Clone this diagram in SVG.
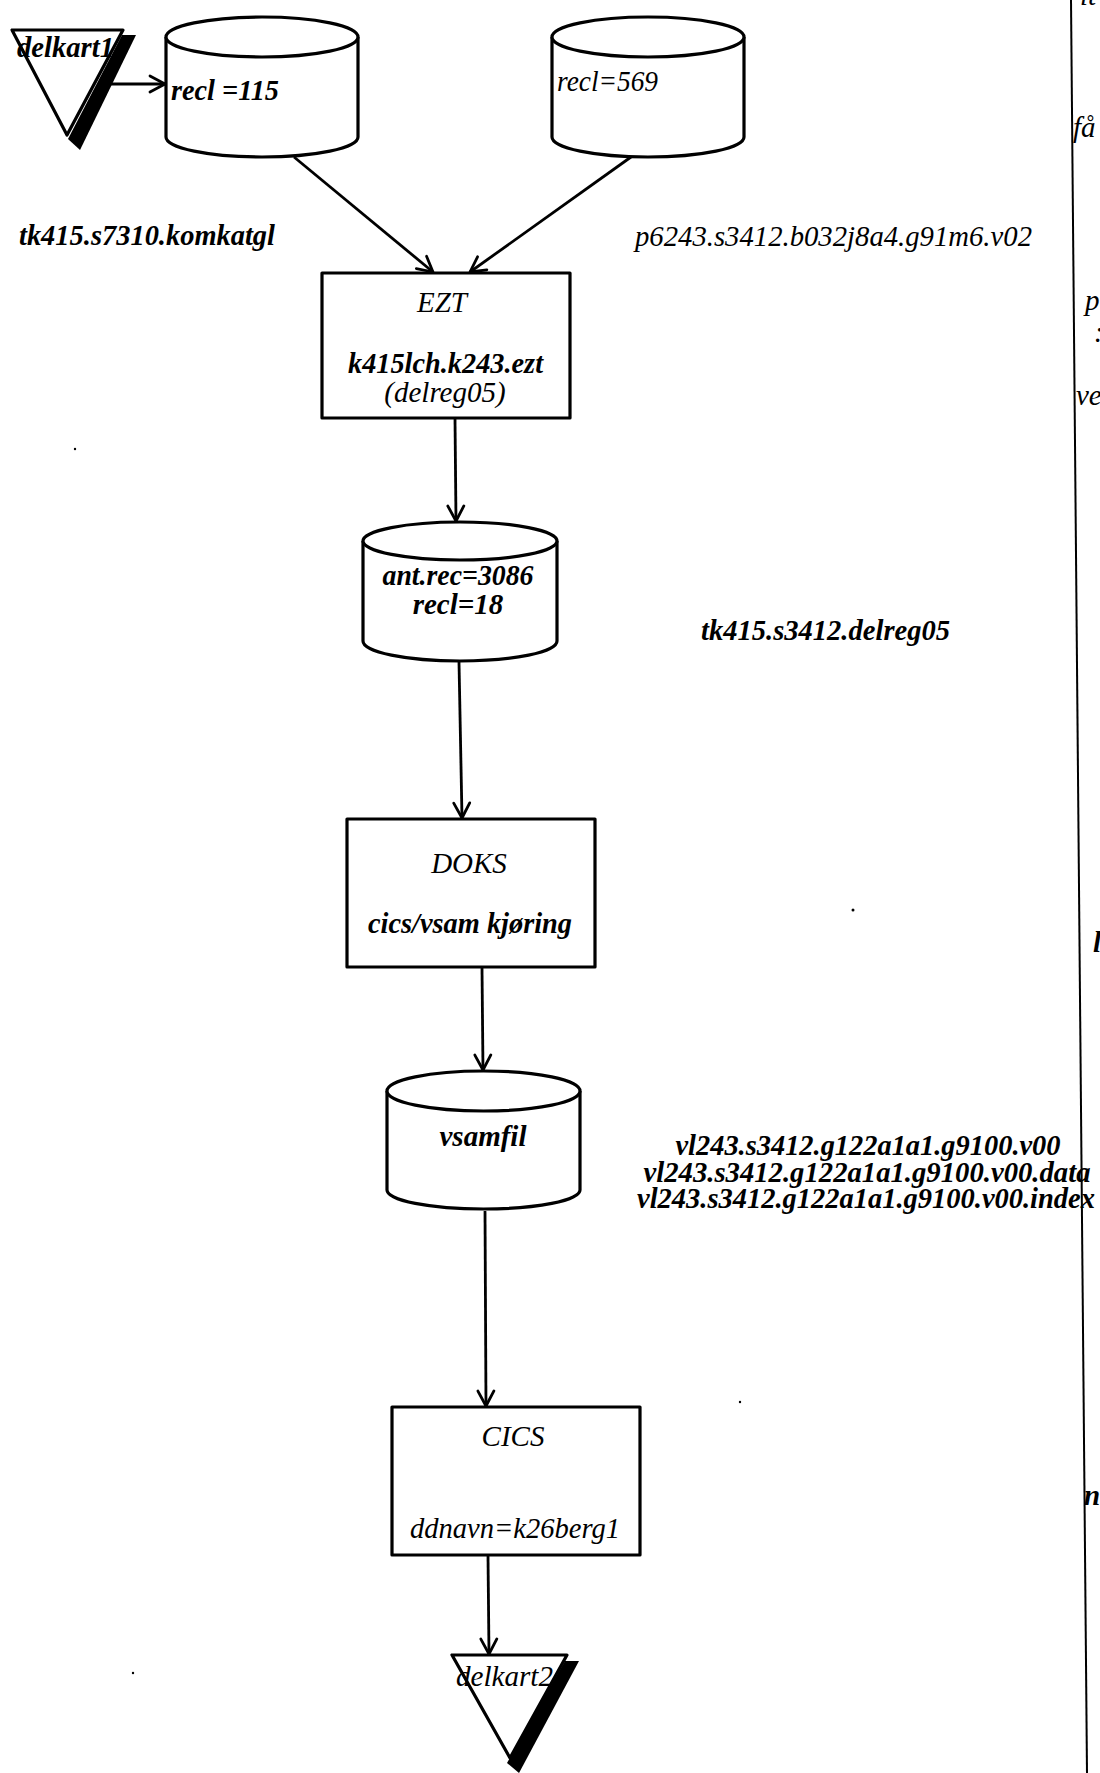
<svg xmlns="http://www.w3.org/2000/svg" width="1100" height="1773" viewBox="0 0 1100 1773">
  <style>
    .t { font-family: "Liberation Serif", "Times New Roman", serif; font-style: italic; font-size: 29px; fill: #000; }
    .b { font-weight: bold; }
    .m { text-anchor: middle; }
    .shape { fill: #fff; stroke: #000; stroke-width: 3.2; stroke-linejoin: round; }
    .shadow { fill: #000; stroke: none; }
    .conn { stroke: #000; stroke-width: 2.8; fill: none; marker-end: url(#arr); }
    .edge { stroke: #000; stroke-width: 2; fill: none; }
  </style>
  <defs>
    <marker id="arr" markerUnits="userSpaceOnUse" markerWidth="24" markerHeight="24" refX="18" refY="10" orient="auto">
      <path d="M3,2 L18,10 L3,18" fill="none" stroke="#000" stroke-width="2.8" stroke-linecap="round" stroke-linejoin="round"/>
    </marker>
  </defs>
  <rect width="1100" height="1773" fill="#fff"/>

  <!-- margin line on the right -->
  <line class="edge" x1="1071" y1="0" x2="1087" y2="1773"/>

  <!-- partially visible texts beyond the margin -->
  <g id="margin-texts">
    <text class="t" x="1080" y="5">lt</text>
    <text class="t" x="1073" y="137">få</text>
    <text class="t" x="1085" y="310">p</text>
    <text class="t" x="1094" y="342" font-size="18">:</text>
    <text class="t" x="1076" y="405">ve</text>
    <text class="t b" x="1093" y="952">l</text>
    <text class="t b" x="1084" y="1505">n</text>
  </g>

  <!-- connectors -->
  <g id="connectors">
    <line class="conn" x1="110" y1="84" x2="165" y2="84"/>
    <line class="conn" x1="294" y1="157" x2="433" y2="272"/>
    <line class="conn" x1="631" y1="157" x2="470" y2="272"/>
    <line class="conn" x1="455" y1="419" x2="456" y2="521"/>
    <line class="conn" x1="459" y1="662" x2="462" y2="818"/>
    <line class="conn" x1="482" y1="968" x2="483" y2="1070"/>
    <line class="conn" x1="485" y1="1211" x2="486" y2="1406"/>
    <line class="conn" x1="488" y1="1556" x2="489" y2="1654"/>
  </g>

  <!-- delkart1 -->
  <g id="delkart1">
    <polygon class="shadow" points="122,35 136,35 80,150 68,139"/>
    <polygon class="shape" points="12,30 123,30 67,135"/>
    <text class="t b" x="17" y="57" font-size="27" textLength="97" lengthAdjust="spacingAndGlyphs">delkart1</text>
  </g>

  <!-- cylinder recl=115 -->
  <g id="cyl1">
    <path class="shape" d="M166,37 L166,137 A96,20 0 0 0 358,137 L358,37 A96,20 0 0 0 166,37 Z"/>
    <path class="shape" fill="none" d="M166,37 A96,20 0 0 0 358,37"/>
    <text class="t b" x="171" y="100" textLength="108" lengthAdjust="spacingAndGlyphs">recl =115</text>
  </g>
  <text class="t b" x="19" y="245" textLength="256" lengthAdjust="spacingAndGlyphs">tk415.s7310.komkatgl</text>

  <!-- cylinder recl=569 -->
  <g id="cyl2">
    <path class="shape" d="M552,37 L552,137 A96,20 0 0 0 744,137 L744,37 A96,20 0 0 0 552,37 Z"/>
    <path class="shape" fill="none" d="M552,37 A96,20 0 0 0 744,37"/>
    <text class="t" x="557" y="91" textLength="101" lengthAdjust="spacingAndGlyphs">recl=569</text>
  </g>
  <text class="t" x="635" y="246" textLength="397" lengthAdjust="spacingAndGlyphs">p6243.s3412.b032j8a4.g91m6.v02</text>

  <!-- EZT -->
  <g id="ezt">
    <rect class="shape" x="322" y="273" width="248" height="145"/>
    <text class="t m" x="442" y="312">EZT</text>
    <text class="t b" x="348" y="373" textLength="195" lengthAdjust="spacingAndGlyphs">k415lch.k243.ezt</text>
    <text class="t m" x="445" y="402">(delreg05)</text>
  </g>

  <!-- cylinder ant.rec -->
  <g id="cyl3">
    <path class="shape" d="M363,541 L363,641 A97,20 0 0 0 557,641 L557,541 A97,19 0 0 0 363,541 Z"/>
    <path class="shape" fill="none" d="M363,541 A97,19 0 0 0 557,541"/>
    <text class="t b m" x="458" y="585" textLength="151" lengthAdjust="spacingAndGlyphs">ant.rec=3086</text>
    <text class="t b m" x="458" y="614">recl=18</text>
  </g>
  <text class="t b" x="701" y="640" textLength="249" lengthAdjust="spacingAndGlyphs">tk415.s3412.delreg05</text>

  <!-- DOKS -->
  <g id="doks">
    <rect class="shape" x="347" y="819" width="248" height="148"/>
    <text class="t m" x="469" y="873">DOKS</text>
    <text class="t b" x="368" y="933" textLength="204" lengthAdjust="spacingAndGlyphs">cics/vsam kjøring</text>
  </g>

  <!-- vsamfil -->
  <g id="cyl4">
    <path class="shape" d="M387,1091 L387,1190 A96.5,19 0 0 0 580,1190 L580,1091 A96.5,20 0 0 0 387,1091 Z"/>
    <path class="shape" fill="none" d="M387,1091 A96.5,20 0 0 0 580,1091"/>
    <text class="t b m" x="483" y="1146">vsamfil</text>
  </g>
  <g id="vsam-names">
    <text class="t b m" x="868" y="1155" font-size="23" textLength="385" lengthAdjust="spacingAndGlyphs">vl243.s3412.g122a1a1.g9100.v00</text>
    <text class="t b m" x="867" y="1182" font-size="23" textLength="447" lengthAdjust="spacingAndGlyphs">vl243.s3412.g122a1a1.g9100.v00.data</text>
    <text class="t b m" x="866" y="1208" font-size="23" textLength="458" lengthAdjust="spacingAndGlyphs">vl243.s3412.g122a1a1.g9100.v00.index</text>
  </g>

  <!-- CICS -->
  <g id="cics">
    <rect class="shape" x="392" y="1407" width="248" height="148"/>
    <text class="t m" x="513" y="1446">CICS</text>
    <text class="t" x="410" y="1538" textLength="210" lengthAdjust="spacingAndGlyphs">ddnavn=k26berg1</text>
  </g>

  <!-- delkart2 -->
  <g id="delkart2">
    <polygon class="shadow" points="565,1661 579,1661 519,1773 507,1763"/>
    <polygon class="shape" points="452,1655 567,1655 510,1758"/>
    <text class="t" x="456" y="1686" font-size="27" textLength="97" lengthAdjust="spacingAndGlyphs">delkart2</text>
  </g>

  <!-- scanner specks -->
  <g id="specks" fill="#000">
    <circle cx="75" cy="449" r="1.2"/>
    <circle cx="853" cy="910" r="1.5"/>
    <circle cx="740" cy="1402" r="1.2"/>
    <circle cx="133" cy="1673" r="1.2"/>
  </g>
</svg>
